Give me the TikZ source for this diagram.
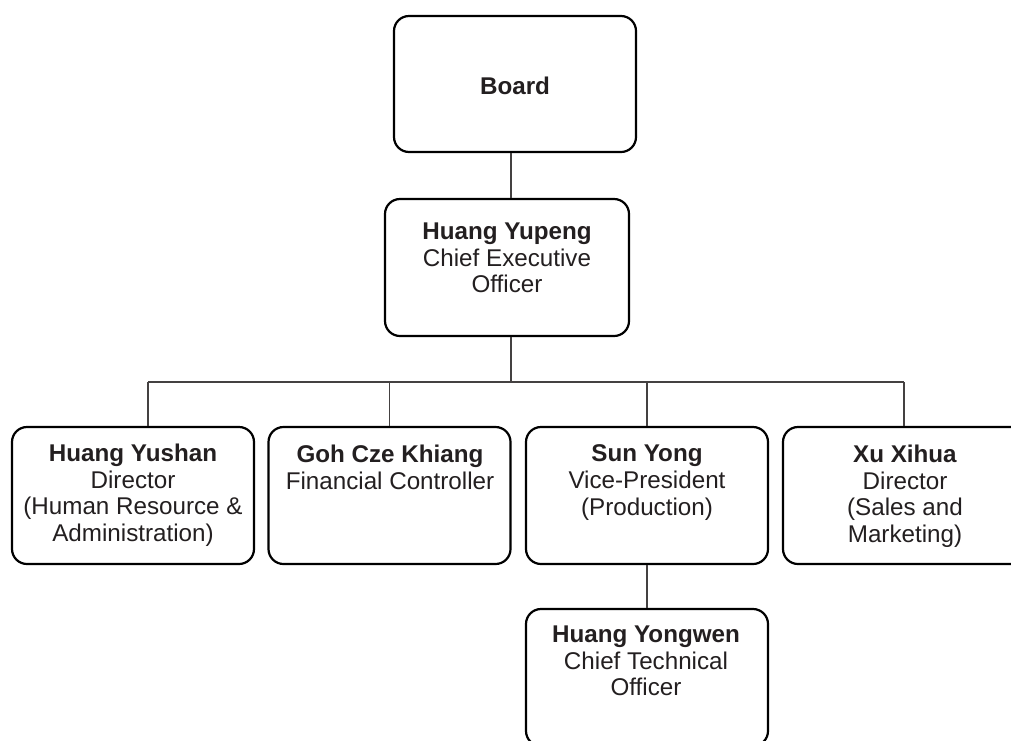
\documentclass[tikz,border=0pt]{standalone}
\usepackage{fontspec}
\setmainfont{Liberation Sans}
\definecolor{ink}{HTML}{231F20}
\begin{document}
\begin{tikzpicture}[x=1pt,y=-1pt,
  box/.style={draw=black, line width=2.2pt, rounded corners=15pt, minimum width=242pt, minimum height=137pt, inner sep=0pt},
  txt/.style={font=\fontsize{24.2}{26.8}\selectfont, text=ink, align=center, inner sep=0pt, anchor=north},
  link/.style={draw=ink!85, line width=1.2pt}]
\useasboundingbox (0,0) rectangle (1011,740);
\clip (0,0) rectangle (1011,740);
\fill[white] (0,0) rectangle (1011,740);

% boxes
\node[box, minimum width=242pt, minimum height=136pt] (board) at (515,84) {};
\node[box, minimum width=244pt] (ceo) at (507,267.5) {};
\node[box] (yushan) at (133,495.5) {};
\node[box] (goh) at (389.5,495.5) {};
\node[box] (sun) at (647,495.5) {};
\node[box] (xu) at (904,495.5) {};
\node[box] (yongwen) at (647,677.5) {};

% texts (north anchor = top of first line)
\node[txt] (tboard) at (515,77) {\textbf{Board}};
\node[txt] (tceo) at (507,222.5) {\textbf{Huang Yupeng}\\Chief Executive\\Officer};
\node[txt] (tyushan) at (133,443.5) {\textbf{Huang Yushan}\\Director\\(Human Resource \&\\Administration)};
\node[txt] (tgoh) at (390,444.5) {\textbf{Goh Cze Khiang}\\Financial Controller};
\node[txt] (tsun) at (647,444.5) {\textbf{Sun Yong}\\Vice-President\\(Production)};
\node[txt] (txu) at (905,444.5) {\textbf{Xu Xihua}\\Director\\(Sales and\\Marketing)};
\node[txt] (tyongwen) at (646,625.5) {\textbf{Huang Yongwen}\\Chief Technical\\Officer};

% connectors
\coordinate (bus) at (511,382);
\coordinate (busL) at (148,382);
\coordinate (busR) at (904,382);
\draw[link] (board.south -| bus) -- (ceo.north -| bus);
\draw[link] (ceo.south -| bus) -- (bus);
\draw[link] (busL) -- (busR);
\draw[link] (busL) -- (yushan.north -| busL);
\draw[link] (goh.north |- bus) -- (goh.north);
\draw[link] (sun.north |- bus) -- (sun.north);
\draw[link] (busR) -- (xu.north);
\draw[link] (sun.south) -- (yongwen.north);
\end{tikzpicture}
\end{document}
